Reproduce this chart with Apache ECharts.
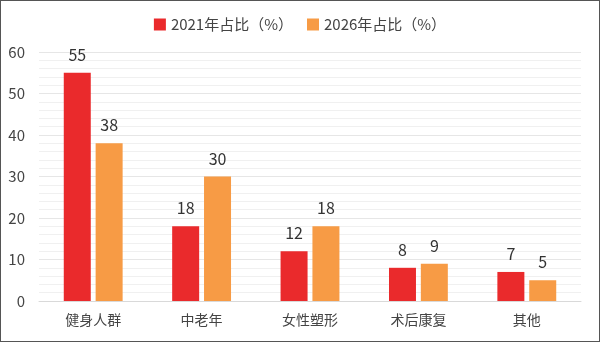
<!DOCTYPE html>
<html>
<head>
<meta charset="utf-8">
<script src="https://cdn.jsdelivr.net/npm/echarts@6/dist/echarts.min.js"></script>
<style>
  html, body { margin: 0; padding: 0; background: #fff; }
  #chart { width: 598px; height: 340px; border: 1px solid #555; }
</style>
</head>
<body>
<div id="chart"></div>
<script>
// 数据
const categories = ['健身人群', '中老年', '女性塑形', '术后康复', '其他'];
const share2021 = [55, 18, 12, 8, 7];
const share2026 = [38, 30, 18, 9, 5];
const seriesNames = ['2021年占比（%）', '2026年占比（%）'];

const chart = echarts.init(document.getElementById('chart'));
const font = "'Microsoft YaHei', 'Noto Sans CJK SC', sans-serif";

chart.setOption({
    animation: false,
    textStyle: { fontFamily: font },
    legend: {
        top: 11,
        left: 'center',
        itemWidth: 12,
        itemHeight: 12,
        itemGap: 14,
        icon: 'rect',
        textStyle: { fontSize: 15, color: '#444', fontFamily: font },
        data: seriesNames
    },
    grid: { left: 38, right: 18, top: 51, bottom: 40 },
    xAxis: {
        type: 'category',
        data: categories,
        axisTick: { show: false },
        axisLine: { lineStyle: { color: '#d9d9d9' } },
        axisLabel: { fontSize: 14, color: '#444', margin: 12, fontFamily: font }
    },
    yAxis: {
        type: 'value',
        min: 0,
        max: 60,
        interval: 10,
        axisLabel: { fontSize: 15, color: '#444', margin: 14, fontFamily: font },
        splitLine: { lineStyle: { color: '#e6e6e6' } },
        minorTick: { show: true, splitNumber: 5, length: 0 },
        minorSplitLine: { show: true, lineStyle: { color: '#f0f0f0' } }
    },
    series: [
        {
            name: seriesNames[0],
            type: 'bar',
            data: share2021,
            barWidth: 27,
            barGap: '18%',
            itemStyle: { color: '#ea2a2c' },
            label: { show: true, position: 'top', distance: 10, fontSize: 16, color: '#333', fontFamily: font }
        },
        {
            name: seriesNames[1],
            type: 'bar',
            data: share2026,
            barWidth: 27,
            itemStyle: { color: '#f79b45' },
            label: { show: true, position: 'top', distance: 10, fontSize: 16, color: '#333', fontFamily: font }
        }
    ]
});
</script>
</body>
</html>
